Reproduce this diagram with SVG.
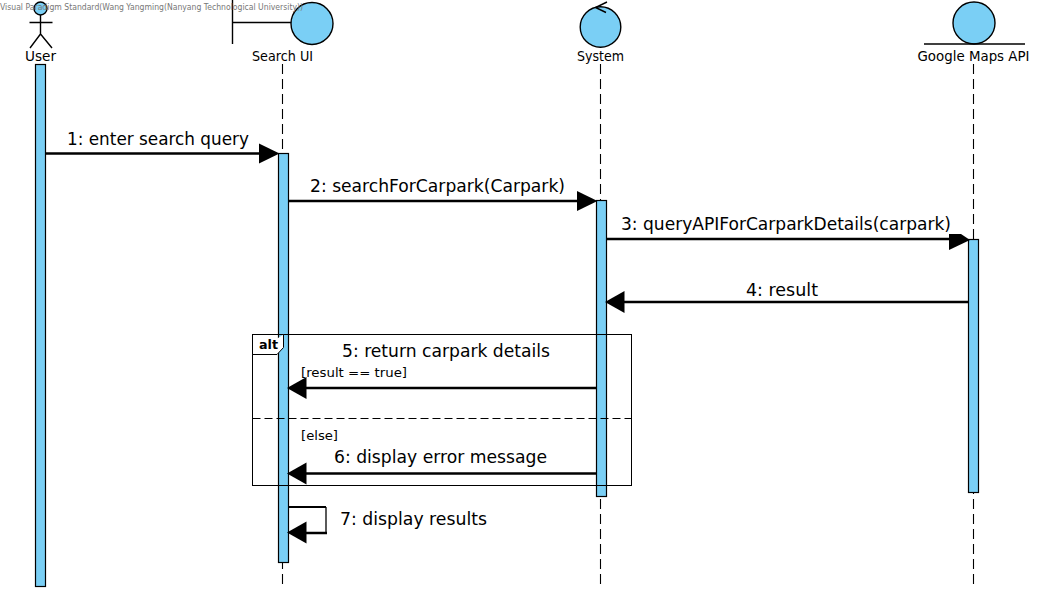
<svg xmlns="http://www.w3.org/2000/svg" width="1044" height="592" viewBox="0 0 1044 592">
<style>
text{font-family:"DejaVu Sans","Liberation Sans",sans-serif;fill:#000}
.lab{font-size:14.500px;text-anchor:middle}
.msg{font-size:18px}
.guard{font-size:12.500px}
.wm{font-size:8.500px;fill:#777}
.shape{fill:#7acff5;stroke:#000;stroke-width:1.400}
.act{fill:#7acff5;stroke:#000;stroke-width:1.200}
.ln{fill:none;stroke:#000;stroke-width:1.400}
.life{fill:none;stroke:#000;stroke-width:1.100;stroke-dasharray:10 5}
.m{fill:none;stroke:#000;stroke-width:2.500}
.h{fill:#000;stroke:none}
</style>
<defs>
<polygon id="right" class="h" points="0,0 -20.500,-10 -20.500,10"/>
<polygon id="left" class="h" points="0,0 19.500,-11 19.500,11"/>
</defs>
<g id="lifelines">
<path class="life" d="M282.500 64V587"/>
<path class="life" d="M600.500 64V587"/>
<path class="life" d="M973.500 64V587"/>
</g>
<g id="user">
<circle class="shape" cx="40.500" cy="8.500" r="6.500"/>
<path class="ln" d="M40.500 15V34M29.500 22.500H52.500M40.500 34L30 48M40.500 34L52 48"/>
<text class="lab" x="40.500" y="61" textLength="31" lengthAdjust="spacingAndGlyphs">User</text>
<rect class="act" x="35.500" y="64.500" width="10" height="522"/>
</g>
<g id="search-ui">
<path class="ln" d="M232.500 0V44M232.500 22.500H292"/>
<circle class="shape" cx="312" cy="23.500" r="21"/>
<text class="lab" x="282.500" y="61" textLength="61" lengthAdjust="spacingAndGlyphs">Search UI</text>
<rect class="act" x="278.500" y="153.500" width="10" height="409"/>
</g>
<g id="system">
<circle class="shape" cx="600.500" cy="27" r="20.300"/>
<path class="ln" d="M607 2L595.500 7.500L606 12.500"/>
<text class="lab" x="600.500" y="61" textLength="47" lengthAdjust="spacingAndGlyphs">System</text>
<rect class="act" x="596.500" y="200.500" width="10" height="296"/>
</g>
<g id="google-maps-api">
<circle class="shape" cx="974" cy="23" r="21"/>
<path class="ln" d="M924 44H1025"/>
<text class="lab" x="973.500" y="61" textLength="112" lengthAdjust="spacingAndGlyphs">Google Maps API</text>
<rect class="act" x="968.500" y="239.500" width="10" height="253"/>
</g>
<g id="alt-fragment">
<rect x="252.500" y="334.500" width="379" height="151" fill="none" stroke="#000" stroke-width="1"/>
<path d="M252.500 354.500H277L283.500 347.500V334.500" fill="#fff" stroke="#000" stroke-width="1"/>
<path d="M252.500 418.500H631.500" fill="none" stroke="#000" stroke-width="1" stroke-dasharray="8 4"/>
<text x="259" y="349" font-size="13" font-weight="bold" textLength="19" lengthAdjust="spacingAndGlyphs">alt</text>
<text class="guard" x="301" y="377" textLength="106" lengthAdjust="spacingAndGlyphs">[result == true]</text>
<text class="guard" x="301" y="440" textLength="37" lengthAdjust="spacingAndGlyphs">[else]</text>
</g>
<g id="connectors">
<path class="m" d="M46 153.500H262"/><use href="#right" x="279.500" y="153.500"/>
<path class="m" d="M289 201H580"/><use href="#right" x="597.500" y="201"/>
<path class="m" d="M607 239H952"/><polygon class="h" points="949,234 961,234 970,240 949,250"/>
<path class="m" d="M968 302H622"/><use href="#left" x="605" y="302"/>
<path class="m" d="M596 388H304"/><use href="#left" x="287" y="388"/>
<path class="m" d="M596 473.500H304"/><use href="#left" x="287" y="473.500"/>
<path d="M289 507H326" fill="none" stroke="#000" stroke-width="2"/>
<path d="M326 507V533" fill="none" stroke="#000" stroke-width="1.300"/>
<path class="m" d="M327 533H304"/><use href="#left" x="287" y="532.500"/>
</g>
<g id="message-labels">
<text class="msg" x="67" y="145" textLength="182" lengthAdjust="spacingAndGlyphs">1: enter search query</text>
<text class="msg" x="310" y="192" textLength="255" lengthAdjust="spacingAndGlyphs">2: searchForCarpark(Carpark)</text>
<text class="msg" x="621" y="230" textLength="330" lengthAdjust="spacingAndGlyphs">3: queryAPIForCarparkDetails(carpark)</text>
<text class="msg" x="746" y="296" textLength="72" lengthAdjust="spacingAndGlyphs">4: result</text>
<text class="msg" x="342" y="357" textLength="208" lengthAdjust="spacingAndGlyphs">5: return carpark details</text>
<text class="msg" x="334" y="463" textLength="213" lengthAdjust="spacingAndGlyphs">6: display error message</text>
<text class="msg" x="340" y="525" textLength="147" lengthAdjust="spacingAndGlyphs">7: display results</text>
</g>
<text class="wm" x="0" y="10" textLength="303" lengthAdjust="spacingAndGlyphs">Visual Paradigm Standard(Wang Yangming(Nanyang Technological University))</text>
</svg>
